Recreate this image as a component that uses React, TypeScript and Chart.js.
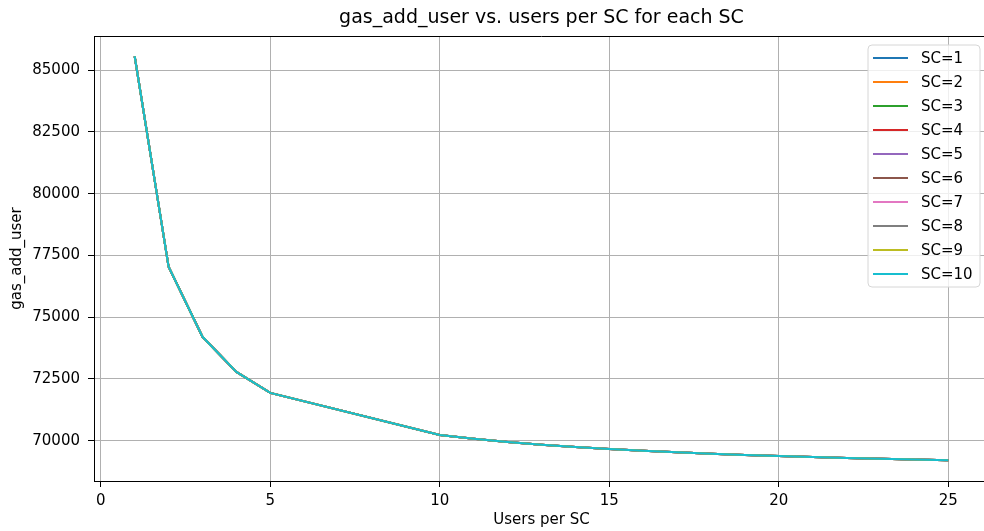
import React, { useEffect, useRef } from "react";
import { Chart, registerables } from "chart.js";

Chart.register(...registerables);

// ---- data ----
const usersPerSC = [1, 2, 3, 4, 5, 10, 11, 12, 13, 14, 15, 16, 17, 18, 19, 20, 21, 22, 23, 24, 25];
const gasAddUser = [
  85566, 77046, 74206, 72786, 71934, 70230, 70075, 69946, 69837, 69743, 69662,
  69591, 69528, 69473, 69423, 69378, 69337, 69300, 69267, 69236, 69208,
];
const scLabels = ["SC=1", "SC=2", "SC=3", "SC=4", "SC=5", "SC=6", "SC=7", "SC=8", "SC=9", "SC=10"];
const scColors = [
  "#1f77b4", "#ff7f0e", "#2ca02c", "#d62728", "#9467bd",
  "#8c564b", "#e377c2", "#7f7f7f", "#bcbd22", "#17becf",
];
const xTicks = [0, 5, 10, 15, 20, 25];
const yTicks = [70000, 72500, 75000, 77500, 80000, 82500, 85000];
const chartTitle = "gas_add_user vs. users per SC for each SC";

const FONT = "'DejaVu Sans', sans-serif";

const framePlugin = {
  id: "frameAndLegend",
  afterDraw(chart: any) {
    const { ctx, chartArea } = chart;
    ctx.save();
    // top spine
    ctx.strokeStyle = "#000";
    ctx.lineWidth = 1;
    ctx.beginPath();
    ctx.moveTo(chartArea.left, Math.round(chartArea.top) + 0.5);
    ctx.lineTo(chartArea.right, Math.round(chartArea.top) + 0.5);
    ctx.stroke();

    // title, centred over the axes like matplotlib
    ctx.font = `19px ${FONT}`;
    ctx.fillStyle = "#000";
    ctx.textAlign = "center";
    ctx.textBaseline = "middle";
    ctx.fillText(chartTitle, (chartArea.left + chartArea.right) / 2, chartArea.top - 18);

    // legend (matplotlib style, upper right inside axes)
    const datasets = chart.data.datasets;
    const boxRight = chartArea.right - 9;
    const boxLeft = boxRight - 112;
    const boxTop = chartArea.top + 9;
    const rowH = 24;
    const boxBottom = boxTop + 13 + rowH * (datasets.length - 1) + 13;
    const r = 4;
    ctx.beginPath();
    ctx.moveTo(boxLeft + r, boxTop);
    ctx.lineTo(boxRight - r, boxTop);
    ctx.arcTo(boxRight, boxTop, boxRight, boxTop + r, r);
    ctx.lineTo(boxRight, boxBottom - r);
    ctx.arcTo(boxRight, boxBottom, boxRight - r, boxBottom, r);
    ctx.lineTo(boxLeft + r, boxBottom);
    ctx.arcTo(boxLeft, boxBottom, boxLeft, boxBottom - r, r);
    ctx.lineTo(boxLeft, boxTop + r);
    ctx.arcTo(boxLeft, boxTop, boxLeft + r, boxTop, r);
    ctx.closePath();
    ctx.fillStyle = "rgba(255,255,255,0.8)";
    ctx.fill();
    ctx.strokeStyle = "#d6d6d6";
    ctx.lineWidth = 1;
    ctx.stroke();

    ctx.font = `15px ${FONT}`;
    ctx.textBaseline = "middle";
    ctx.textAlign = "left";
    datasets.forEach((ds: any, i: number) => {
      const y = boxTop + 13 + i * rowH;
      ctx.strokeStyle = ds.borderColor;
      ctx.lineWidth = 2;
      ctx.beginPath();
      ctx.moveTo(boxLeft + 5, y);
      ctx.lineTo(boxLeft + 40, y);
      ctx.stroke();
      ctx.fillStyle = "#000";
      ctx.fillText(ds.label, boxLeft + 53, y + 1);
    });
    ctx.restore();
  },
};

export default function App() {
  const ref = useRef<HTMLCanvasElement>(null);

  useEffect(() => {
    if (!ref.current) return;
    const chart = new Chart(ref.current, {
      type: "line",
      data: {
        datasets: scLabels.map((label, i) => ({
          label,
          data: usersPerSC.map((x, j) => ({ x, y: gasAddUser[j] })),
          borderColor: scColors[i],
          backgroundColor: scColors[i],
          borderWidth: 2,
          pointRadius: 0,
          tension: 0,
          fill: false,
          order: scLabels.length - 1 - i,
        })),
      },
      options: {
        animation: false,
        responsive: false,
        devicePixelRatio: 1,
        layout: { padding: { left: 0, right: 11, top: 36, bottom: 0 } },
        plugins: {
          legend: { display: false },
          tooltip: { enabled: false },
          title: { display: false },
        },
        scales: {
          x: {
            type: "linear",
            min: -0.2,
            max: 26.2,
            afterBuildTicks: (s: any) => {
              s.ticks = xTicks.map((v) => ({ value: v }));
            },
            afterFit: (s: any) => {
              s.height = 50;
            },
            ticks: {
              autoSkip: false,
              maxRotation: 0,
              padding: 5,
              color: "#000",
              font: { family: FONT, size: 15 },
              callback: (v: any) => String(v),
            },
            grid: {
              color: "#b0b0b0",
              lineWidth: 1,
              tickLength: 6,
              tickColor: "#000",
            },
            border: { display: true, color: "#000", width: 1 },
            title: {
              display: true,
              text: "Users per SC",
              color: "#000",
              font: { family: FONT, size: 15 },
              padding: { top: 0, bottom: 2 },
            },
          },
          y: {
            type: "linear",
            min: 68368,
            max: 86385,
            afterBuildTicks: (s: any) => {
              s.ticks = yTicks.map((v) => ({ value: v }));
            },
            afterFit: (s: any) => {
              s.width = 94;
            },
            ticks: {
              autoSkip: false,
              padding: 8,
              color: "#000",
              font: { family: FONT, size: 15 },
              callback: (v: any) => String(v),
            },
            grid: {
              color: "#b0b0b0",
              lineWidth: 1,
              tickLength: 6,
              tickColor: "#000",
            },
            border: { display: true, color: "#000", width: 1 },
            title: {
              display: true,
              text: "gas_add_user",
              color: "#000",
              font: { family: FONT, size: 15 },
              padding: { top: 8, bottom: 0 },
            },
          },
        },
      },
      plugins: [framePlugin],
    } as any);
    return () => chart.destroy();
  }, []);

  return (
    <div
      style={{
        position: "fixed",
        left: 0,
        top: 0,
        width: 984,
        height: 531,
        overflow: "hidden",
        background: "#fff",
      }}
    >
      <canvas ref={ref} width={1000} height={531} style={{ display: "block" }} />
    </div>
  );
}
